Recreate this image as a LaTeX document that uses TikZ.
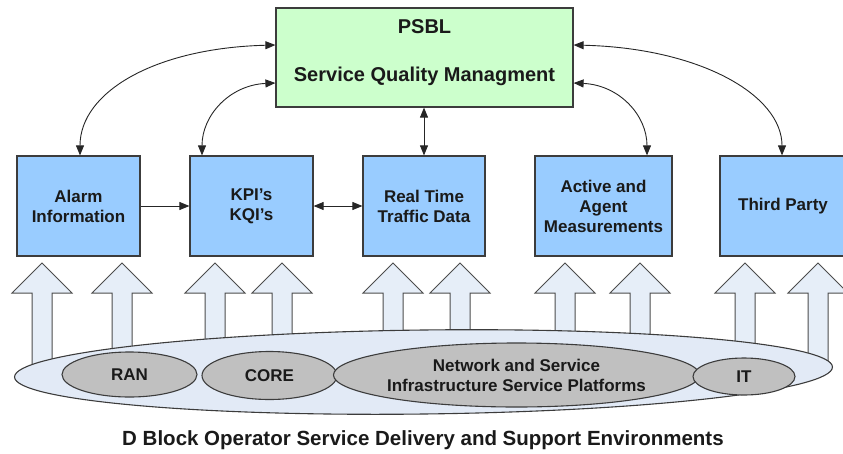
\documentclass[tikz,border=0pt]{standalone}
\usepackage{fontspec}
\setmainfont{Liberation Sans}
\usetikzlibrary{arrows.meta,shapes.geometric}

\definecolor{qmgreen}{HTML}{CCFFCC}
\definecolor{srcblue}{HTML}{99CCFF}
\definecolor{flowfill}{HTML}{E6EEF8}
\definecolor{envfill}{HTML}{E2EAF6}
\definecolor{subfill}{HTML}{C0C0C0}
\definecolor{edgegray}{HTML}{3C3C3C}
\definecolor{ink}{HTML}{1A1A1A}

\tikzset{
  greenbox/.style={draw=edgegray, line width=1.2pt, fill=qmgreen, inner sep=0pt,
    minimum width=297pt, minimum height=99pt},
  bluebox/.style={draw=edgegray, line width=1.2pt, fill=srcblue, inner sep=0pt,
    minimum height=100pt, align=center, text=ink,
    font=\fontsize{17}{20}\selectfont\bfseries},
  platform/.style={ellipse, draw=edgegray, line width=1.1pt, fill=envfill, inner sep=0pt},
  subnet/.style={ellipse, draw=edgegray, line width=1.1pt, fill=subfill, inner sep=0pt,
    align=center, text=ink, font=\fontsize{17}{20}\selectfont\bfseries},
  conn/.style={line width=0.9pt, draw=black!85,
    {Triangle[length=10pt,width=8pt]}-{Triangle[length=10pt,width=8pt]}},
  oneway/.style={line width=0.9pt, draw=black!85, -{Triangle[length=10pt,width=8pt]}},
  arrowbody/.style={draw=black!70, line width=1pt, fill=flowfill, line join=miter},
  uparr/.pic={
    \path[arrowbody] (0,0) -- (30,30) -- (10,30) -- (10,105) -- (-10,105)
      -- (-10,30) -- (-30,30) -- cycle;
  }
}

\begin{document}
\begin{tikzpicture}[x=1pt,y=-1pt]
\useasboundingbox (0,0) rectangle (843,453);
\clip (0,0) rectangle (843,453);

% quality management layer
\node[greenbox] (sqm) at (424.5,57.5) {};
\node[text=ink, font=\fontsize{20}{24}\selectfont\bfseries] (psbl) at (424.5,27) {PSBL};
\node[text=ink, font=\fontsize{20}{24}\selectfont\bfseries] (sqmtxt) at (424.5,76) {Service Quality Managment};

% data sources
\node[bluebox, minimum width=123pt] (alarm) at (78.5,206) {Alarm\\Information};
\node[bluebox, minimum width=123pt] (kpi)   at (251.5,206) {KPI's\\KQI's};
\node[bluebox, minimum width=122pt] (rt)    at (424,206) {Real Time\\Traffic Data};
\node[bluebox, minimum width=137pt] (act)   at (603.5,206) {Active and\\Agent\\Measurements};
\node[bluebox, minimum width=126pt] (third) at (783,206) {Third Party};

% feeds from the environments
\foreach \ax in {42,122,215,282,393,460,565,640,745,818}
  \pic at (\ax,263) {uparr};

% operator environments
\node[platform, minimum width=818pt, minimum height=84pt, rotate=0.7] (env) at (423.5,372) {};
\node[subnet, minimum width=135pt, minimum height=45pt] (ran)  at (129.5,374.5) {RAN};
\node[subnet, minimum width=135pt, minimum height=48pt] (core) at (269.5,375.5) {CORE};
\node[subnet, minimum width=347pt, minimum height=64pt] (nsp)  at (516.5,375) {Network and Service\\Infrastructure Service Platforms};
\node[subnet, minimum width=102pt, minimum height=37pt] (it)   at (744,376.5) {IT};

\node[text=ink, font=\fontsize{20.5}{24}\selectfont\bfseries] (caption) at (423,440)
  {D Block Operator Service Delivery and Support Environments};

% connectors
\coordinate (sqmL1) at (sqm.west |- 0,45);
\coordinate (sqmL2) at (sqm.west |- 0,83);
\coordinate (sqmR1) at (sqm.east |- 0,45);
\coordinate (sqmR2) at (sqm.east |- 0,83);
\coordinate (alarmT) at (alarm.north -| 80,0);
\coordinate (kpiT)   at (kpi.north -| 202,0);
\coordinate (actT)   at (act.north -| 647,0);
\coordinate (thirdT) at (third.north -| 782,0);

\draw[conn] (sqmL1) .. controls (155,48) and (80,92) .. (alarmT);
\draw[conn] (sqmL2) .. controls (230,85) and (202,115) .. (kpiT);
\draw[conn] (sqmR2) .. controls (619,85) and (647,115) .. (actT);
\draw[conn] (sqmR1) .. controls (700,48) and (782,95) .. (thirdT);
\draw[conn] (sqm.south -| rt.north) -- (rt.north);
\draw[oneway] (alarm.east) -- (kpi.west);
\draw[conn] (kpi.east) -- (rt.west);
\end{tikzpicture}
\end{document}
